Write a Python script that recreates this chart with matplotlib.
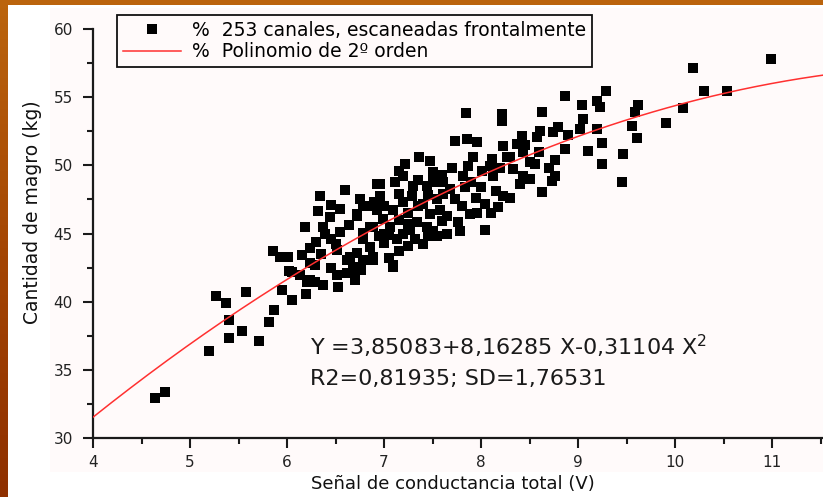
"""
Cantidad de magro vs señal de conductancia total, 253 canales.
Scatter + 2nd-order polynomial fit, drawn on a slide-like orange frame.
"""

import numpy as np
import matplotlib
matplotlib.use("Agg")
import matplotlib.pyplot as plt
from matplotlib.patches import Rectangle
from matplotlib.ticker import MultipleLocator

# ---------------------------------------------------------------------------
# Data
# ---------------------------------------------------------------------------
conductancia = [
    4.64, 4.74, 5.20, 5.27, 5.37, 5.58, 5.40, 5.54, 5.40, 5.71,
    5.87, 5.81, 5.95, 6.05, 6.20, 6.02, 6.24, 6.21, 6.29, 6.37,
    6.53, 6.62, 6.76, 6.89, 7.09, 7.15, 6.52, 6.65, 6.78,
    6.60, 6.34, 6.19, 6.32, 6.44, 6.37, 6.39, 6.24, 6.29, 6.52,
    6.64, 6.72, 6.82, 6.93, 6.89, 6.78, 6.62, 5.86, 5.93, 6.01,
    6.05, 6.13, 6.24, 6.89, 6.68,
    7.85, 8.22, 8.22, 8.63, 9.04, 9.20, 9.23, 9.62, 9.59, 9.56,
    9.61, 9.46, 9.45, 9.25, 9.25, 9.10, 8.87, 8.76, 8.76, 8.73,
    8.63, 9.05, 9.02, 9.20, 8.74, 8.61, 8.58, 8.79, 8.42, 8.37,
    8.23, 8.11, 8.27, 8.43, 8.51, 8.56, 8.33, 8.43, 8.51, 8.40,
    8.23, 8.30, 8.18, 8.04, 8.04, 7.78, 7.76, 7.89, 7.96, 8.12,
    8.09, 8.01, 7.92, 7.96, 7.86, 7.73, 7.87, 7.81, 7.84, 7.68,
    7.73, 7.61, 7.61, 7.47, 7.36, 7.22, 7.20, 7.30, 7.29, 7.44,
    7.51, 7.55, 7.58, 7.47, 7.34, 7.27, 7.32, 7.44, 7.51, 7.09,
    7.13, 7.06, 6.99, 6.96, 6.96, 7.11, 7.09, 6.93, 6.78, 6.72,
    6.86, 6.78, 6.86, 6.72, 6.75, 6.68, 6.70,
    7.00, 7.20, 7.15, 7.25, 7.40, 7.05, 7.20, 7.35, 7.00, 7.45,
    7.60, 7.65, 6.45, 6.55, 6.50,
    7.00, 7.05, 7.25, 7.40, 7.55, 7.65, 7.15, 7.35, 7.45, 7.60,
    7.70, 7.90, 8.00, 8.15, 8.20, 8.30, 8.45, 8.60, 8.70, 8.90,
    6.90, 6.75, 6.55, 6.45, 6.30, 6.15, 6.35, 6.45, 6.95, 7.25,
    7.80, 7.95, 8.10, 7.50, 7.15,
    10.99, 10.19, 10.30, 10.54, 10.08, 9.91, 9.29, 8.87,
]
magro = [
    32.94, 33.38, 36.40, 40.44, 39.93, 40.74, 38.68, 37.87, 37.35, 37.13,
    39.41, 38.53, 40.88, 40.15, 40.59, 42.28, 42.87, 41.47, 41.47, 41.25,
    41.10, 42.13, 42.35, 43.24, 42.57, 43.68, 41.99, 43.31, 43.09,
    48.16, 47.72, 45.51, 46.62, 46.18, 45.51, 44.93, 43.97, 42.72, 43.82,
    45.66, 46.40, 46.99, 48.60, 45.51, 44.56, 43.09, 43.68, 43.24, 43.31,
    42.21, 41.99, 41.62, 43.09, 42.13,
    53.82, 53.75, 53.24, 53.90, 54.41, 54.71, 54.26, 54.41, 53.90, 52.87,
    51.99, 50.81, 48.75, 50.07, 51.62, 51.03, 51.18, 50.37, 49.19, 48.82,
    48.01, 53.38, 52.65, 52.65, 52.43, 52.50, 52.06, 52.79, 52.13, 51.54,
    51.40, 50.44, 50.59, 50.96, 50.22, 50.07, 49.71, 49.19, 48.97, 48.60,
    47.72, 47.57, 46.91, 47.13, 45.29, 45.15, 45.88, 46.40, 46.54, 49.19,
    49.93, 49.56, 50.59, 51.69, 51.91, 51.76, 49.93, 49.19, 48.38, 48.24,
    47.50, 47.87, 48.75, 50.29, 50.59, 50.07, 49.19, 48.46, 47.72, 48.46,
    49.49, 47.50, 46.76, 46.40, 45.81, 45.29, 44.56, 45.51, 45.15, 42.72,
    44.56, 45.51, 46.03, 47.72, 48.60, 48.75, 46.76, 46.76, 46.99, 46.25,
    45.51, 45.07, 44.04, 43.60, 42.35, 42.57, 41.62,
    47.00, 47.30, 46.00, 46.50, 47.20, 44.90, 45.00, 47.00, 45.00, 44.80,
    45.90, 46.30, 44.60, 45.10, 44.20,
    44.30, 43.20, 44.10, 44.20, 44.80, 45.00, 47.90, 48.90, 47.80, 49.30,
    49.80, 48.80, 48.40, 48.10, 49.80, 50.60, 51.50, 51.00, 49.80, 52.20,
    47.30, 47.50, 46.80, 47.10, 44.40, 43.40, 43.50, 42.50, 44.80, 45.70,
    47.00, 47.60, 46.50, 48.80, 49.60,
    57.79, 57.13, 55.44, 55.44, 54.19, 53.09, 55.44, 55.07,
]

# Polynomial coefficients printed on the chart (c0, c1, c2)
poly_coef = [3.85083, 8.16285, -0.31104]

x_ticks = [4, 5, 6, 7, 8, 9, 10, 11]
y_ticks = [30, 35, 40, 45, 50, 55, 60]

label_pts = "%  253 canales, escaneadas frontalmente"
label_fit = "%  Polinomio de 2º orden"
eq_line1 = "Y =3,85083+8,16285 X-0,31104 $\\mathregular{X^{2}}$"
eq_line2 = "R2=0,81935; SD=1,76531"

W, H = 823, 497


def main():
    fig = plt.figure(figsize=(W / 100, H / 100), dpi=100)

    # orange slide frame (vertical gradient) + white page + pinkish panel
    bg = fig.add_axes([0, 0, 1, 1], zorder=-10)
    grad = np.linspace(0, 1, 64).reshape(-1, 1)
    cmap = matplotlib.colors.LinearSegmentedColormap.from_list(
        "frame", ["#bb640d", "#a44604", "#8f3000"])
    bg.imshow(grad, aspect="auto", cmap=cmap, extent=[0, 1, 0, 1])
    bg.set_axis_off()
    fig.patches.append(Rectangle((8 / W, 0), 1 - 8 / W, 1 - 5 / H,
                                 transform=fig.transFigure, facecolor="white",
                                 edgecolor="none", zorder=-5))
    fig.patches.append(Rectangle((50 / W, 25 / H), 1 - 50 / W, 464 / H,
                                 transform=fig.transFigure, facecolor="#fffafa",
                                 edgecolor="none", zorder=-4))

    ax = fig.add_axes([93 / W, 59 / H, 730 / W, 409 / H])
    ax.patch.set_alpha(0)

    ax.plot(conductancia, magro, ls="none", marker="s", ms=7.2, mew=0,
            color="black", zorder=3, label=label_pts)
    xfit = np.linspace(4, 11.6, 200)
    ax.plot(xfit, np.polyval(poly_coef[::-1], xfit), color="#ff3030",
            lw=1.1, zorder=4, label=label_fit)

    ax.set_xlim(4, 4 + 730 / 97)
    ax.set_ylim(30, 60)
    ax.set_xticks(x_ticks)
    ax.set_yticks(y_ticks)
    ax.xaxis.set_minor_locator(MultipleLocator(0.5))
    ax.yaxis.set_minor_locator(MultipleLocator(2.5))

    for side in ("top", "right"):
        ax.spines[side].set_visible(False)
    for side in ("left", "bottom"):
        ax.spines[side].set_linewidth(1.6)
        ax.spines[side].set_color("#1a1a1a")

    ax.tick_params(which="major", direction="out", length=7, width=1.5,
                   color="#1a1a1a", labelsize=11, labelcolor="#222222")
    ax.tick_params(which="minor", direction="out", length=4.3, width=1.5,
                   color="#1a1a1a")
    ax.tick_params(axis="y", which="major", pad=7.5)
    ax.tick_params(axis="x", which="major", pad=5)

    ax.set_xlabel("Señal de conductancia total (V)", fontsize=13, color="#111111")
    ax.set_ylabel("Cantidad de magro (kg)", fontsize=13.5, color="#111111")
    ax.xaxis.set_label_coords((453 - 93) / 730, (438 - 475) / 409)
    ax.yaxis.set_label_coords((42 - 93) / 730, (438 - 212) / 409)

    leg = fig.legend(loc="upper left", bbox_to_anchor=(117 / W, 1 - 15 / H),
                     bbox_transform=fig.transFigure, borderaxespad=0,
                     fontsize=13.5, frameon=True, fancybox=False, shadow=False,
                     numpoints=1, handlelength=3.1, handletextpad=0.6,
                     borderpad=0.3, labelspacing=0.15)
    leg.get_frame().set_edgecolor("#111111")
    leg.get_frame().set_linewidth(1.3)
    leg.get_frame().set_facecolor("#fffafa")
    leg.get_frame().set_alpha(1)

    fig.text(310 / W, 1 - 355 / H, eq_line1, fontsize=16, color="#1a1a1a",
             va="baseline")
    fig.text(310 / W, 1 - 385 / H, eq_line2, fontsize=16, color="#1a1a1a",
             va="baseline")

    fig.savefig("out.png", dpi=100)
    plt.close(fig)


if __name__ == "__main__":
    main()
